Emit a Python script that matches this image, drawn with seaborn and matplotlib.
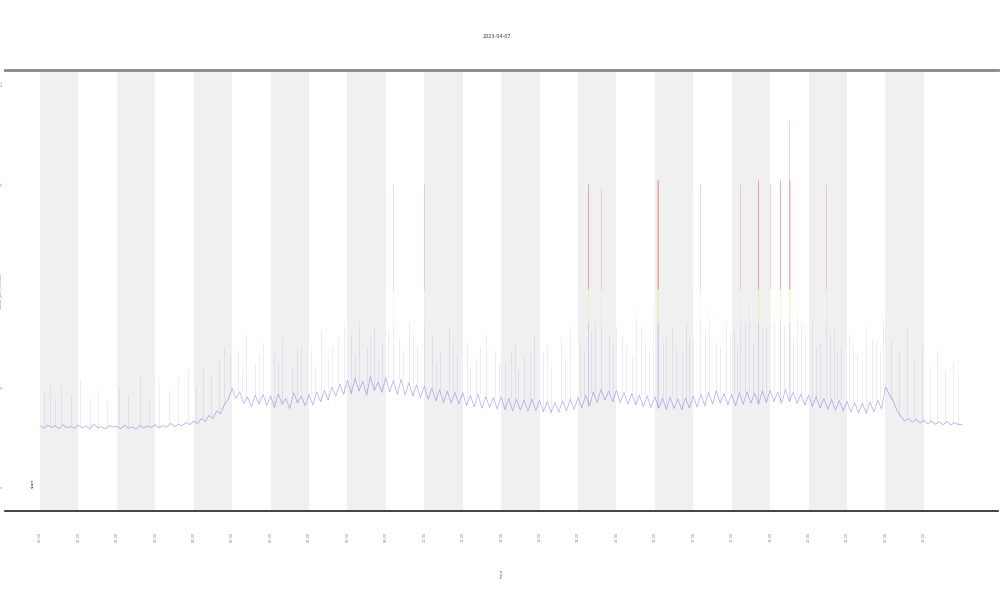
import matplotlib
matplotlib.use("Agg")
import matplotlib.pyplot as plt
import numpy as np
import pandas as pd
import seaborn as sns

# one value every 6 minutes, 00:00 .. 24:00
level = [
    15.3, 14.6, 15.4, 14.8, 15.2, 14.5, 15.5, 14.7, 15.1, 14.6,
    15.4, 14.7, 15.2, 14.5, 15.6, 14.8, 15.0, 14.4, 15.3, 14.9,
    15.1, 14.5, 15.4, 14.6, 15.0, 14.4, 15.3, 14.7, 15.2, 14.8,
    15.5, 14.7, 15.3, 14.9, 15.8, 15.0, 15.6, 15.2, 16.1, 15.5,
    16.4, 15.8, 17.0, 16.3, 17.8, 17.0, 18.9, 18.2, 20.5, 21.8,
    24.5, 22.0, 23.6, 20.8, 22.4, 19.9, 22.8, 20.5, 23.0, 20.3,
    22.6, 19.8, 23.1, 20.6, 22.0, 19.5, 23.4, 20.9, 22.5, 20.2,
    23.0, 20.4, 23.6, 21.2, 24.0, 21.6, 24.8, 22.5, 25.6, 23.0,
    26.5, 23.2, 27.0, 23.8, 26.2, 22.9, 27.4, 24.0, 26.0, 23.5,
    27.2, 23.6, 26.4, 23.0, 26.8, 22.8, 25.9, 22.6, 25.4, 22.2,
    25.0, 21.8, 24.6, 21.4, 24.2, 21.0, 23.8, 20.8, 23.5, 20.6,
    23.4, 20.2, 22.8, 19.9, 23.1, 19.6, 22.5, 19.8, 22.2, 19.4,
    22.4, 19.2, 22.0, 18.9, 21.8, 19.1, 21.6, 18.8, 21.9, 19.0,
    21.5, 18.7, 21.2, 18.5, 21.0, 18.6, 21.4, 18.9, 21.8, 19.3,
    22.2, 19.6, 22.8, 20.1, 23.6, 21.0, 24.2, 21.6, 23.8, 21.2,
    24.0, 21.0, 23.5, 20.6, 23.2, 20.4, 22.8, 20.0, 22.6, 19.8,
    22.4, 19.6, 22.0, 19.3, 22.3, 19.5, 21.9, 19.2, 22.1, 19.6,
    22.6, 19.8, 23.0, 20.2, 23.5, 20.6, 23.9, 20.8, 23.2, 20.4,
    23.0, 20.2, 23.4, 20.5, 23.7, 20.8, 23.3, 20.6, 23.8, 21.0,
    24.0, 21.2, 23.6, 20.9, 24.2, 21.3, 23.5, 20.8, 23.1, 20.4,
    22.8, 20.0, 22.4, 19.6, 22.0, 19.3, 21.8, 19.1, 21.5, 18.9,
    21.3, 18.6, 21.0, 18.4, 20.8, 18.3, 21.1, 18.7, 21.5, 19.4,
    24.8, 23.0, 21.5, 19.0, 17.6, 16.4, 17.0, 16.1, 16.8, 15.9,
    16.6, 15.7, 16.4, 15.6, 16.2, 15.5, 16.3, 15.4, 16.0, 15.5,
    15.6,
]

# short bursts on top of the level
spike_hours = [
    0.1, 0.25, 0.4, 0.55, 0.8, 1.05, 1.3, 1.5, 1.75, 2.05, 2.3, 2.6, 2.85,
    3.1, 3.35, 3.6, 3.85, 4.05, 4.25, 4.45, 4.65, 4.8, 4.95,
    5.15, 5.35, 5.6, 5.8, 6.1, 6.3, 6.55, 6.8, 7.05, 7.3, 7.5, 7.75, 7.9,
    8.1, 8.3, 8.5, 8.7, 8.9, 9.05, 9.19, 9.35, 9.6, 9.8, 9.99,
    10.2, 10.4, 10.65, 10.85, 11.1, 11.35, 11.6, 11.85,
    12.1, 12.35, 12.6, 12.85, 13.1, 13.3, 13.55, 13.8,
    14.05, 14.26, 14.27, 14.45, 14.6, 14.8, 15.0, 15.25, 15.5, 15.75,
    15.95, 16.06, 16.07, 16.08, 16.3, 16.55, 16.8,
    17.0, 17.17, 17.4, 17.6, 17.85, 18.05, 18.22, 18.45, 18.68, 18.69, 18.9,
    19.0, 19.1, 19.26, 19.27, 19.49, 19.5, 19.51, 19.7, 19.9,
    20.1, 20.3, 20.45, 20.65, 20.85, 21.05, 21.25, 21.5, 21.75, 21.95,
    22.15, 22.35, 22.55, 22.75, 22.95, 23.15, 23.35, 23.55, 23.75, 23.9,
]
spike_tops = [
    24, 26, 22, 25, 23, 27, 22, 24, 21, 25, 23, 28, 22,
    26, 24, 27, 29, 25, 30, 28, 32, 35, 33,
    34, 38, 31, 36, 33, 37, 30, 35, 34, 39, 32, 37, 40,
    38, 42, 35, 40, 36, 39, 75, 37, 41, 35, 75,
    38, 34, 40, 33, 36, 32, 38, 34,
    31, 36, 33, 38, 34, 30, 37, 40,
    36, 75, 75, 42, 74, 38, 40, 35, 44, 36,
    45, 76, 76, 76, 38, 34, 41,
    37, 75, 44, 36, 42, 39, 75, 45, 76, 76, 40,
    75, 43, 76, 76, 91, 76, 76, 44, 38,
    42, 36, 75, 40, 35, 38, 33, 40, 36, 42,
    37, 34, 40, 32, 36, 30, 34, 29, 31, 28,
]

# weaker bursts in the busy middle of the day
minor_hours = [
    5.25, 5.7, 6.2, 6.7, 7.15, 7.6, 8.2, 8.6, 8.8, 9.45, 9.7, 10.3, 10.75,
    11.2, 11.45, 11.95, 12.25, 12.45, 12.75, 13.2, 13.65, 14.15, 14.35,
    14.9, 15.15, 15.4, 15.65, 15.85, 16.2, 16.45, 16.7, 16.9, 17.3, 17.7,
    17.95, 18.15, 18.35, 18.55, 18.8, 19.35, 19.6, 19.8, 20.2, 20.55,
    20.75, 21.15, 21.4, 21.65, 21.85,
]
minor_tops = [
    29, 33, 31, 34, 30, 35, 33, 37, 31, 34, 38, 31, 36,
    30, 35, 31, 34, 29, 33, 35, 32, 34, 39,
    35, 38, 33, 40, 34, 36, 40, 33, 37, 39, 35,
    38, 34, 41, 36, 39, 40, 37, 41, 35, 38,
    33, 35, 31, 37, 34,
]

hour_ticks = list(range(24))
hour_labels = [f"{h:02d}:00" for h in hour_ticks]
value_ticks = [0, 25, 50, 75, 100]
value_labels = ["0", "25", "", "75", "100"]

BLUE = "#4646e6"
YELLOW = "#e8e84a"
RED = "#e01010"
LOW_CUT, HIGH_CUT = 41, 49

sns.set_style("white")
plt.rcParams["font.family"] = ["DejaVu Sans"]

fig = plt.figure(figsize=(10, 6), dpi=100)
ax = fig.add_axes([0.005, 0.148, 0.993, 0.735])

# shade every other hour
for h in hour_ticks[::2]:
    ax.axvspan(h, h + 1, color="#f0f0f0", lw=0, zorder=0)

df = pd.DataFrame({"hour": np.arange(len(level)) / 10, "value": level})
sns.lineplot(data=df, x="hour", y="value", ax=ax, color=BLUE, lw=0.55, alpha=0.42)

sx = np.array(spike_hours + minor_hours)
st = np.array(spike_tops + minor_tops, dtype=float)
base = np.array(level)[np.rint(sx * 10).astype(int)]
ax.vlines(sx, base, np.minimum(st, LOW_CUT), color=BLUE, lw=0.45, alpha=0.16)
mid = st > LOW_CUT
ax.vlines(sx[mid], LOW_CUT, np.minimum(st[mid], HIGH_CUT), color=YELLOW,
          lw=0.5, alpha=0.25)
high = st > HIGH_CUT
ax.vlines(sx[high], HIGH_CUT, st[high], color=RED, lw=0.6, alpha=0.22)

ax.set_xlim(-0.91, 24.93)
ax.set_ylim(-5.9, 103.2)

for side in ("left", "right"):
    ax.spines[side].set_visible(False)
ax.spines["top"].set_color("#888888")
ax.spines["top"].set_linewidth(2)
ax.spines["bottom"].set_color("#222222")
ax.spines["bottom"].set_linewidth(1.2)

ax.set_xticks(hour_ticks, hour_labels, rotation=90, fontsize=2.5, color="#888888")
ax.tick_params(axis="x", length=5, width=0.4, color="#cccccc", pad=10)
ax.set_yticks(value_ticks, value_labels, rotation=90,
              fontsize=2.5, color="#888888", va="center")
ax.tick_params(axis="y", length=0, pad=1)

ax.set_xlabel("hour", fontsize=3, rotation=90, color="#666666")
ax.xaxis.set_label_coords(0.5, -0.13)
ax.set_ylabel("value_per_minute", fontsize=3, color="#888888")
ax.yaxis.set_label_coords(-0.002, 0.5)

ax.text(-0.18, 1.0, "start", rotation=90, fontsize=3, color="#333333",
        ha="center", va="center")
fig.text(0.497, 1 - 37 / 600, "2023-04-07", fontsize=3.5, color="#333333",
         ha="center", va="center")

fig.savefig("out.png", dpi=100)
plt.close(fig)
